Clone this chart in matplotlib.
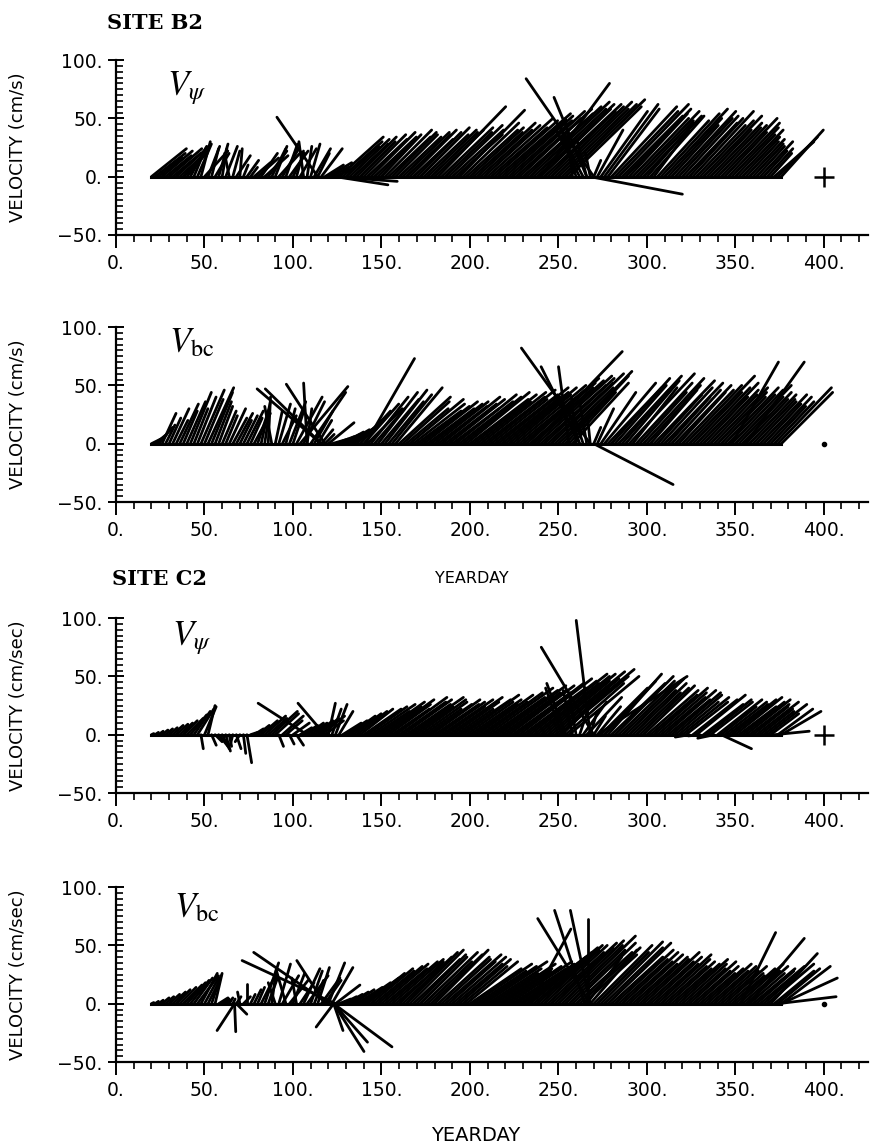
import numpy as np
import matplotlib
matplotlib.use('Agg')
import matplotlib.pyplot as plt
from matplotlib.collections import LineCollection
from matplotlib.ticker import MultipleLocator, FuncFormatter

plt.rcParams['mathtext.fontset'] = 'stix'

# sample days of the current record (every 2nd day)
days = np.arange(20, 377, 2)

# ---- SITE B2, V_psi (cm/s) ----
b2_psi_v = [24, 20, 16, 22, 18, 24, 20, 26, 22, 18,
            22, 26, 24, 28, 30, 22, 26, 24, 20, 28,
            24, 26, 20, 22, 18, 24, 10, 14, 8, 12,
            16, 20, 18, 22, 24, 26, 20, 24, 28, 22,
            20, 22, 24, 30, 26, 28, 24, 20, 24, 10,
            12, 8, 6, 34, 30, 26, 32, 28, 34, 30,
            36, 32, 38, 34, 30, 36, 40, 34, 38, 36,
            34, 38, 36, 40, 32, 38, 42, 36, 40, 38,
            40, 60, 42, 38, 44, 40, 36, 57, 46, 40,
            42, 38, 46, 40, 44, 50, 42, 48, 54, 46,
            52, 48, 56, 50, 58, 54, 60, 64, 58, 62,
            58, 62, 56, 60, 64, 58, 62, 66, 60, 50,
            46, 40, 34, 30, 20, 14, 40, 56, 62, 58,
            60, 56, 62, 52, 58, 54, 50, 56, 48, 52,
            46, 52, 40, 48, 54, 58, 50, 44, 56, 50,
            52, 46, 50, 56, 44, 48, 52, 40, 46, 42,
            44, 50, 38, 46, 42, 36, 40, 34, 30, 32,
            28, 26, 30, 22, 24, 20, 30, 34, 40]
b2_psi_u = [30, 26, 20, 26, 22, 28, 24, 28, 24, 18,
            18, 14, 10, 12, 8, 20, 10, 6, 12, 8,
            4, 10, -4, 6, 12, 2, 4, 10, 6, 14,
            18, 14, 20, 16, 12, 10, 18, 14, 10, 16,
            10, 6, 14, -4, 4, 8, 14, 10, 18, 16,
            20, 14, 12, 38, 34, 28, 34, 30, 34, 30,
            36, 34, 38, 36, 30, 34, 40, 36, 38, 36,
            36, 40, 38, 40, 34, 38, 42, 38, 42, 40,
            42, 58, 44, 40, 46, 44, 40, 56, 48, 44,
            46, 42, 50, 44, 48, 56, 48, 54, 62, 52,
            58, 54, 62, 56, 62, 60, 64, 68, 62, 66,
            60, 66, 58, 62, 66, 60, 64, 68, 62, -6,
            -14, -20, -18, -8, -4, 6, 22, 40, 46, 44,
            56, 54, 60, 52, 56, 50, 48, 54, 46, 50,
            40, 46, 30, 44, 50, 54, 46, 40, 52, 46,
            48, 44, 46, 52, 42, 46, 50, 38, 44, 40,
            42, 48, 36, 44, 40, 34, 38, 32, 28, 30,
            26, 24, 28, 20, 22, 18, 34, 34, 36]
b2_psi_xday = [114, 122, 124, 240, 266, 268, 270]
b2_psi_xu = [-35, 56, 45, 59, -28, 79, -58]
b2_psi_xv = [51, -4, -7, 80, 68, -15, 84]

# ---- SITE B2, V_bc (cm/s) ----
b2_bc_v = [4, 8, 14, 26, 16, 22, 30, 20, 34, 28,
           36, 44, 30, 40, 46, 38, 48, 44, 36, 32,
           28, 24, 30, 22, 26, 20, 24, 28, 22, 26,
           30, 36, 26, 40, 32, 28, 34, 24, 30, 36,
           30, 40, 49, 36, 30, 44, 28, 20, 12, 8,
           18, 4, 6, 8, 10, 12, 14, 16, 22, 28,
           34, 30, 40, 30, 44, 38, 46, 36, 42, 48,
           40, 36, 30, 38, 34, 28, 32, 36, 30, 34,
           36, 32, 40, 34, 38, 30, 42, 36, 40, 44,
           38, 42, 36, 44, 40, 46, 38, 42, 48, 40,
           44, 48, 42, 50, 46, 52, 56, 48, 54, 58,
           50, 56, 52, 60, 48, 54, 62, 58, 44, 52,
           40, 30, 30, 36, 20, 14, 30, 44, 52, 48,
           56, 50, 58, 46, 54, 60, 48, 52, 44, 56,
           50, 46, 54, 42, 48, 52, 40, 46, 50, 44,
           46, 50, 58, 44, 48, 52, 40, 46, 42, 48,
           44, 40, 48, 42, 46, 50, 40, 44, 38, 42,
           38, 36, 42, 34, 40, 32, 36, 48, 44]
b2_bc_u = [8, 10, 12, 12, 8, 10, 14, 10, 16, 12,
           16, 18, 12, 16, 20, 16, 22, 18, 14, 12,
           12, 10, 14, 12, 14, 10, 12, 14, 10, 14,
           10, 8, 4, 2, -6, 6, 10, 12, 8, 14,
           10, 22, 41, 18, 4, 30, 16, 12, 10, 8,
           22, 14, 16, 18, 18, 20, 22, 22, 24, 26,
           30, 30, 32, 26, 34, 32, 36, 30, 34, 40,
           44, 40, 36, 46, 44, 38, 42, 46, 40, 44,
           46, 42, 50, 44, 48, 40, 52, 46, 50, 54,
           50, 54, 46, 56, 52, 58, 48, 54, 60, 50,
           54, 58, 50, 60, 56, 62, 62, 54, 60, 64,
           56, 60, 56, 62, 50, 56, 60, 54, 40, 48,
           -4, -10, -10, -6, -2, 6, 14, 30, 44, 46,
           50, 44, 54, 40, 46, 56, 38, 48, 40, 52,
           46, 40, 52, 38, 44, 50, 36, 42, 48, 40,
           44, 48, 56, 42, 46, 50, 38, 44, 40, 46,
           42, 38, 46, 40, 44, 48, 38, 42, 36, 40,
           36, 34, 40, 32, 38, 30, 34, 46, 44]
b2_bc_xday = [108, 116, 116, 118, 141, 236, 256, 262, 268, 270, 348, 356]
b2_bc_xu = [-3, -55, -48, -33, 42, 76, -9, -33, -59, 68, 40, 50]
b2_bc_xv = [52, 47, 47, 51, 73, 79, 66, 66, 82, -35, 70, 70]

# ---- SITE C2, V_psi (cm/sec) ----
c2_psi_v = [1, 2, 3, 4, 5, 6, 8, 9, 10, 12,
            14, 17, 20, 22, -12, 24, 25, -9, -6, -10,
            -12, -14, -10, -8, -12, -6, -16, -24, 2, 5,
            8, 12, 16, 14, 20, 18, -10, 16, 12, -8,
            10, -9, 6, 8, 10, 10, 12, 14, 16, 12,
            27, 22, 26, 20, 10, 12, 16, 18, 20, 22,
            22, 24, 26, 20, 28, 24, 30, 26, 22, 32,
            28, 30, 26, 32, 24, 30, 28, 22, 26, 30,
            26, 28, 30, 24, 32, 28, 22, 30, 34, 28,
            30, 26, 34, 28, 36, 40, 32, 38, 42, 36,
            38, 42, 36, 44, 48, 40, 46, 52, 44, 50,
            52, 46, 54, 48, 56, 50, 40, 44, 50, 38,
            36, 30, 28, 32, 20, 16, 24, 40, 46, 52,
            44, 50, 46, 42, 48, 38, 44, 36, 40, 42,
            38, 34, 40, 36, 32, 38, 30, 36, 34, 28,
            32, 28, -2, 30, 34, -1, 26, 30, 28, -3,
            30, 24, 28, 26, 30, 32, 24, 28, 30, 26,
            24, 28, 22, 20, 26, 18, 3, 22, 20]
c2_psi_u = [2, 3, 4, 5, 6, 7, 9, 10, 11, 12,
            14, 14, 14, 14, 2, 10, 6, 4, 6, 8,
            6, 4, 2, -2, 4, -4, 2, 4, 6, 8,
            10, 14, 18, 16, 22, 20, 4, 18, 14, 4,
            14, 6, 10, 12, 14, 14, 16, 18, 20, 16,
            6, 8, 10, 12, 16, 18, 22, 24, 26, 28,
            32, 34, 38, 30, 40, 34, 42, 36, 32, 44,
            40, 42, 38, 46, 34, 42, 40, 32, 38, 42,
            38, 40, 44, 34, 46, 40, 32, 44, 48, 40,
            44, 38, 48, 40, 50, 56, 46, 54, 58, 50,
            52, 56, 50, 58, 62, 54, 60, 66, 56, 62,
            64, 56, 66, 58, 68, 60, 40, 50, 60, -8,
            -6, 10, 20, 30, 6, 10, 20, 40, 44, 46,
            46, 50, 48, 44, 50, 40, 46, 38, 42, 44,
            44, 40, 46, 42, 38, 44, 36, 42, 40, 34,
            40, 36, -12, 38, 42, -10, 34, 38, 36, -14,
            38, 30, 36, 34, 38, 40, 32, 36, 38, 34,
            30, 36, 28, 26, 34, 24, 30, 30, 34]
c2_psi_xday = [108, 118, 252, 254, 268, 270, 272, 342]
c2_psi_xu = [-42, -23, -14, -16, -12, -45, 77, 26]
c2_psi_xv = [27, 27, 40, 44, 98, 75, 50, -12]

# ---- SITE C2, V_bc (cm/sec) ----
c2_bc_v = [1, 2, 3, 5, 6, 8, 10, 12, 14, 16,
           18, 20, 22, 24, 26, 22, 20, 24, 26, 5,
           4, 3, 5, 4, 6, 10, 6, 17, 8, 12,
           14, 20, 35, 22, 30, 18, 34, 24, 28, 20,
           26, 22, 18, 30, 24, 28, 20, 31, 22, 20,
           35, 31, 16, 4, 6, 8, 10, 12, 14, 18,
           22, 26, 30, 28, 32, 34, 30, 36, 38, 34,
           36, 40, 44, 46, 38, 42, 40, 44, 36, 42,
           46, 40, 38, 42, 36, 40, 34, 38, 32, 36,
           30, 34, 28, 32, 36, 30, 26, 34, 30, 28,
           32, 36, 30, 34, 38, 40, 44, 48, 42, 50,
           46, 50, 44, 52, 48, 54, 50, 58, 46, 52,
           44, 48, 42, 40, 46, 50, 44, 53, 48, 52,
           40, 46, 38, 44, 36, 42, 34, 40, 38, 44,
           36, 40, 34, 42, 38, 32, 36, 30, 34, 38,
           34, 30, 36, 28, 32, 26, 30, 34, 28, 32,
           30, 28, 32, 26, 24, 30, 34, 28, 32, 26,
           30, 28, 32, 26, 34, 43, 28, 30, 32]
c2_bc_u = [2, 3, 4, 6, 7, 9, 11, 12, 14, 16,
           16, 16, 16, 18, 14, 12, 10, 8, 6, 8,
           6, 4, 3, 2, 4, -2, 6, 0, 4, 6,
           6, 10, 12, 8, 4, -6, 10, 14, -8, 16,
           10, -4, 12, 14, 18, 10, 8, 10, 16, 14,
           14, 18, 21, 10, 12, 14, 16, 18, 22, 26,
           30, 32, 36, 34, 38, 40, 36, 42, 44, 40,
           38, 42, 44, 46, 40, 42, 40, 46, 38, 44,
           46, 44, 42, 48, 40, 46, 40, 44, 38, 44,
           44, 50, 42, 48, 54, 46, 40, 52, 46, 42,
           48, 54, 46, 50, 56, 54, 56, 58, 50, 56,
           50, 54, 48, 56, 50, 56, 52, 60, 48, 54,
           48, 52, 46, 30, 40, 50, 44, 53, 50, 54,
           44, 50, 42, 48, 40, 46, 38, 44, 42, 48,
           40, 44, 38, 46, 42, 36, 40, 34, 38, 42,
           38, 34, 40, 32, 36, 30, 34, 38, 32, 36,
           34, 32, 36, 30, 28, 34, 38, 32, 36, 30,
           36, 32, 38, 30, 40, 40, 34, 36, 42]
c2_bc_xday = [67, 67, 68, 118, 120, 124, 123, 123, 123, 123, 123,
              234, 265, 268, 268, 267, 353, 358, 376, 374]
c2_bc_xu = [-15, 1, 9, -24, -64, -80, -15, 8, 26, 29, 50,
            35, -26, -17, -45, 0, 30, 47, 48, 50]
c2_bc_xv = [-23, -24, -9, 37, 44, 37, -20, -23, -41, -33, -37,
            64, 80, 80, 73, 73, 61, 56, 22, 6]

marker_day = 400

FIG_W, FIG_H = 8.73, 11.48
AX_L, AX_W, AX_H = 0.1329, 0.8614, 0.1524
XMAX = 425
# days per cm/s, so that sticks point in their true direction on the page
K = (AX_H * FIG_H / 150) / (AX_W * FIG_W / XMAX)


def fmt(x, pos):
    return f'{x:.0f}.'.replace('-', '\u2212')


def stick_panel(ax, u, v, xday, xu, xv):
    assert len(u) == len(days) and len(v) == len(days)
    t = np.concatenate([days, xday])
    uu = np.concatenate([u, xu])
    vv = np.concatenate([v, xv])
    segs = [[(ti, 0), (ti + K * ui, vi)] for ti, ui, vi in zip(t, uu, vv)]
    ax.add_collection(LineCollection(segs, colors='black', linewidths=2.0,
                                     capstyle='round'))
    ax.plot([days[0], days[-1]], [0, 0], color='black', lw=2.2)

    ax.set_xlim(0, XMAX)
    ax.set_ylim(-50, 100)
    for s in ['top', 'right']:
        ax.spines[s].set_visible(False)
    for s in ['left', 'bottom']:
        ax.spines[s].set_linewidth(1.6)
    ax.xaxis.set_major_locator(MultipleLocator(50))
    ax.xaxis.set_minor_locator(MultipleLocator(10))
    ax.yaxis.set_major_locator(MultipleLocator(50))
    ax.yaxis.set_minor_locator(MultipleLocator(5))
    ax.xaxis.set_major_formatter(FuncFormatter(fmt))
    ax.yaxis.set_major_formatter(FuncFormatter(fmt))
    ax.tick_params(axis='x', which='major', direction='out', length=9, width=1.4,
                   labelsize=13.5, pad=5)
    ax.tick_params(axis='x', which='minor', direction='out', length=5, width=1.2)
    ax.tick_params(axis='y', which='major', direction='inout', length=11, width=1.4,
                   labelsize=13.5, pad=4)
    ax.tick_params(axis='y', which='minor', direction='in', length=5, width=1.2)


fig = plt.figure(figsize=(FIG_W, FIG_H), dpi=100)

panels = [
    (0.7953, b2_psi_u, b2_psi_v, b2_psi_xday, b2_psi_xu, b2_psi_xv,
     r'$V_\psi$', (0.068, 0.95), 'VELOCITY (cm/s)', '+'),
    (0.5627, b2_bc_u, b2_bc_v, b2_bc_xday, b2_bc_xu, b2_bc_xv,
     r'$V_{\rm bc}$', (0.070, 1.01), 'VELOCITY (cm/s)', '.'),
    (0.3092, c2_psi_u, c2_psi_v, c2_psi_xday, c2_psi_xu, c2_psi_xv,
     r'$V_\psi$', (0.074, 0.995), 'VELOCITY (cm/sec)', '+'),
    (0.0749, c2_bc_u, c2_bc_v, c2_bc_xday, c2_bc_xu, c2_bc_xv,
     r'$V_{\rm bc}$', (0.077, 0.98), 'VELOCITY (cm/sec)', '.'),
]

for bottom, u, v, xd, xu, xv, name, npos, ylab, mk in panels:
    ax = fig.add_axes([AX_L, bottom, AX_W, AX_H])
    stick_panel(ax, u, v, xd, xu, xv)
    ax.text(npos[0], npos[1], name, transform=ax.transAxes, fontsize=25,
            ha='left', va='top')
    ax.set_ylabel(ylab, fontsize=13)
    ax.yaxis.set_label_coords(-0.118, 0.5)
    if mk == '+':
        ax.plot(marker_day, 0, marker='+', color='black', ms=14, mew=1.8)
    else:
        ax.plot(marker_day, 0, marker='o', color='black', ms=3)

fig.text(0.1226, 0.980, 'SITE B2', fontfamily='DejaVu Serif', fontweight='bold',
         fontsize=15, va='center', ha='left')
fig.text(0.128, 0.4956, 'SITE C2', fontfamily='DejaVu Serif', fontweight='bold',
         fontsize=15, va='center', ha='left')
fig.text(0.5407, 0.4965, 'YEARDAY', fontsize=11.5, va='center', ha='center')
fig.text(0.545, 0.0105, 'YEARDAY', fontsize=14, va='center', ha='center')

fig.savefig('out.png', dpi=100)
